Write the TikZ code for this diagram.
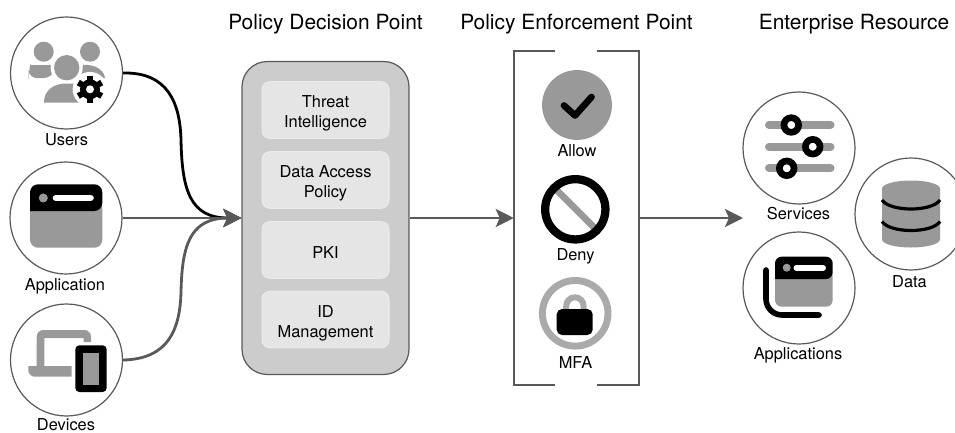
\documentclass[tikz,border=0pt]{standalone}
\usepackage{fontspec}
\setmainfont{TeX Gyre Heros}
\usetikzlibrary{arrows.meta,calc}
\definecolor{icongray}{HTML}{999999}
\definecolor{linegray}{HTML}{595959}
\definecolor{ringgray}{HTML}{AAAAAA}
\newcommand{\toptwo}{\rule{0pt}{14.2pt}}
\newcommand{\topone}{\rule{0pt}{12.6pt}}
\tikzset{
  disc/.style={circle,draw=linegray,line width=0.9pt,fill=white,minimum size=84pt,inner sep=0pt},
  lbl/.style={font=\fontsize{12.3}{14.6}\selectfont,align=center,inner sep=0pt,text=black},
  head/.style={font=\fontsize{15.7}{18}\selectfont,inner sep=0pt,text=black},
  panel/.style={draw=linegray,line width=0.9pt,fill=black!20,rounded corners=19pt,minimum width=125.25pt,minimum height=234.75pt,inner sep=0pt},
  card/.style={draw=white!92!black,line width=0.75pt,fill=black!10,rounded corners=6pt,minimum width=95.25pt,minimum height=42.5pt,inner sep=0pt,align=center,font=\fontsize{12.3}{14.8}\selectfont,text=black},
  hole/.style={minimum width=93.75pt,minimum height=250.5pt,inner sep=0pt},
  flow/.style={line width=2.1pt,draw=linegray,-{Stealth[length=13.5pt,width=13.5pt,inset=3pt,fill=linegray]}},
  flowblack/.style={line width=2.1pt,draw=black,-{Stealth[length=13.5pt,width=13.5pt,inset=3pt,fill=linegray]}},
  bar/.style={line width=6pt,draw=icongray,line cap=round},
  knob/.style={line width=5pt,draw=black,fill=white}
}
\begin{document}
\begin{tikzpicture}[x=0.75pt,y=-0.75pt]
\clip (0,0) rectangle (955,432);
% discs
\node[disc] (users) at (66.5,73) {};
\node[disc] (application) at (66,218) {};
\node[disc] (devices) at (66.5,360) {};
\node[disc] (services) at (799,148) {};
\node[disc] (data) at (911,214) {};
\node[disc] (applications) at (799,288) {};
% labels
\node[head] (h1) at (325.5,24.5) {Policy Decision Point};
\node[head] (h2) at (576.5,24.5) {Policy Enforcement Point};
\node[head] (h3) at (854,24.5) {Enterprise Resource};
\node[lbl] (l1) at (66.5,140) {Users};
\node[lbl] (l2) at (65,286) {Application};
\node[lbl] (l3) at (66,425) {Devices};
\node[lbl] (l4) at (577,151) {Allow};
\node[lbl] (l5) at (575.5,256.5) {Deny};
\node[lbl] (l6) at (575.5,362.3) {MFA};
\node[lbl] (l7) at (798.5,213.5) {Services};
\node[lbl] (l8) at (909.5,282) {Data};
\node[lbl] (l9) at (798,355.5) {Applications};
% policy decision point
\node[panel] (pdp) at (325.5,218) {};
\node[card] (c1) at (325.5,110) {\toptwo Threat\\Intelligence};
\node[card] (c2) at (325.5,180) {\toptwo Data Access\\Policy};
\node[card] (c3) at (325.5,250) {\topone PKI};
\node[card] (c4) at (325.5,319.5) {\toptwo ID\\Management};
% policy enforcement point
\node[hole] (pep) at (576.5,218) {};
\draw[draw=linegray,line width=0.9pt] (555,51) -| (514,385) -- (555,385);
\draw[draw=linegray,line width=0.9pt] (597,51) -| (639,385) -- (597,385);
\coordinate (er) at (743,218);
% connectors
\draw[flowblack] (users.east) .. controls (168,72) and (180,103) .. (181,140) .. controls (182,190) and (190,218) .. (pdp.west);
\draw[flow] (application.east) -- (pdp.west);
\draw[flow] (devices.east) .. controls (168,359) and (180,330) .. (181,292) .. controls (182,245) and (190,218) .. (pdp.west);
\draw[flow] (pdp.east) -- (pep.west);
\draw[flow] (pep.east) -- (er);
% users icon
\fill[icongray] (43.7,51.7) circle (7.5pt) (90,51.7) circle (7.5pt);
\fill[icongray,rounded corners=6pt] (28.7,78) -- (28.7,72) .. controls (30,66) and (38,65) .. (44,65) .. controls (48,65) and (52,66) .. (55,68) -- (52,78) -- cycle;
\fill[icongray] (83,65) .. controls (95,64) and (104,70) .. (105,78) -- (78,78) -- cycle;
\fill[white] (66.7,67.7) circle (12pt);
\fill[icongray] (66.7,67.7) circle (9.5pt);
\fill[icongray] (44,102.5) .. controls (44,90) and (54,83.5) .. (66,83.5) -- (80,83.5) -- (84,102.5) -- cycle;
\fill[white] (90,89.3) circle (13pt);
\foreach \a in {0,60,...,300}{\draw[line width=4.5pt,black] (90,89.3) ++(\a+30:9) -- ++(\a+30:4.5);}
\fill[black] (90,89.3) circle (7.5pt);
\fill[white] (90,89.3) circle (3pt);
% application icon
\fill[icongray,rounded corners=6pt] (30,200) rectangle (102.3,247.7);
\fill[black,rounded corners=6pt] (30,211) -- (30,184.3) -- (102.3,184.3) -- (102.3,211) [sharp corners] -- cycle;
\fill[icongray] (43.3,198) circle (3.4pt);
\draw[line width=5pt,white,line cap=round] (56,198) -- (90.5,198);
% devices icon
\fill[icongray] (36.7,367) [rounded corners=5pt] -- (36.7,330) -- (91,330) [sharp corners] -- (91,342) -- (83.5,342) -- (83.5,338) -- (44.3,338) -- (44.3,367) -- cycle;
\fill[icongray] (71.7,366) -- (28.3,366) [rounded corners=5pt] -- (28.3,376.7) [sharp corners] -- (71.7,376.7) -- cycle;
\fill[black,rounded corners=3pt] (75.3,345.3) rectangle (106.7,392);
\fill[icongray] (82.7,352.7) rectangle (99.3,385);
% allow icon
\fill[icongray] (577,105) circle (26.2pt);
\draw[line width=5pt,black,line cap=round,line join=round] (564,105.5) -- (575,115.5) -- (591.5,97);
% deny icon
\draw[line width=5pt,icongray] (556.7,190) -- (595,228.3);
\draw[line width=6.2pt,black] (575.3,209.3) circle (22.6pt);
% mfa icon
\draw[line width=5.2pt,ringgray] (575.2,313.3) circle (24.6pt);
\draw[line width=4.5pt,ringgray] (566.2,312) -- (566.2,306) arc[start angle=180,end angle=360,radius=8.7] -- (583.6,312);
\fill[black,rounded corners=4pt] (556.7,309) rectangle (592.7,335);
% services icon
\draw[bar] (769,124.7) -- (830.5,124.7);
\draw[bar] (769,146.5) -- (830.5,146.5);
\draw[bar] (769,168.2) -- (830.5,168.2);
\draw[knob] (791.3,125) circle (5.5pt);
\draw[knob] (812.7,146.7) circle (5.5pt);
\draw[knob] (786.7,168.3) circle (5.5pt);
% data icon
\fill[icongray] (882,188.5) arc[start angle=180,end angle=360,x radius=29,y radius=8] -- (940,239.5) arc[start angle=0,end angle=180,x radius=29,y radius=8] -- cycle;
\draw[line width=2.4pt,black] (882,200) .. controls (890,212) and (932,212) .. (940,200);
\draw[line width=2.4pt,black] (882,221.5) .. controls (890,233.5) and (932,233.5) .. (940,221.5);
% applications icon
\fill[icongray,rounded corners=5pt] (775,270) rectangle (832.7,306.7);
\fill[black,rounded corners=5pt] (775,279) -- (775,256.7) -- (832.7,256.7) -- (832.7,279) [sharp corners] -- cycle;
\fill[icongray] (786.7,267.7) circle (3pt);
\draw[line width=4.5pt,white,line cap=round] (796.5,267.7) -- (823,267.7);
\draw[line width=4.2pt,black,line cap=round,rounded corners=12pt] (766,270) -- (766,315) -- (819,315);
\end{tikzpicture}
\end{document}
